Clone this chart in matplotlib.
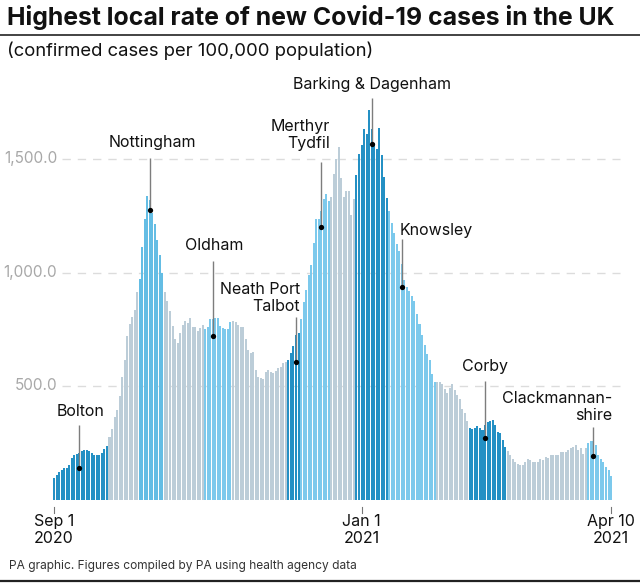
import numpy as np
from matplotlib import pyplot as plt

plt.rcParams['font.family'] = ['Inter', 'DejaVu Sans']

W, H = 640, 586

# daily rate, Sep 1 2020 to Apr 10 2021
rates = [
    94, 109, 120, 131, 137, 139, 153, 184, 195, 200, 207, 213, 217, 220, 213, 204, 198, 197, 198, 204, 222, 236,
    275, 311, 365, 395, 458, 541, 614, 720, 773, 805, 834, 912,
    973, 1113, 1237, 1335, 1318, 1260, 1213, 1145, 1076, 998,
    912, 875, 831, 765, 705, 688, 735, 768, 787, 779, 798, 761, 761, 742, 754, 768, 749,
    761, 793, 796, 800, 800, 764, 754, 751, 751,
    783, 787, 783, 768, 761, 758, 705, 658, 644, 651, 570, 541, 534, 530, 563, 570, 563, 559, 567, 578, 585, 600, 607,
    614, 644, 675, 724, 735,
    793, 871, 925, 991, 1035, 1128, 1235, 1235, 1272, 1323, 1345, 1316,
    1333, 1433, 1499, 1554, 1415, 1333, 1357, 1357, 1253, 1323,
    1430, 1523, 1561, 1630, 1611, 1714, 1630, 1572, 1542, 1638, 1518, 1422, 1326,
    1269, 1220, 1176, 1125, 1096, 1037, 969, 935, 917, 898, 876, 818, 774, 723, 679, 642, 613, 551, 518,
    517, 517, 507, 487, 468, 492, 510, 483, 462, 443, 399, 380, 345,
    316, 311, 316, 322, 316, 307, 330, 341, 345, 351, 326, 297, 292, 263, 231, 213,
    198, 179, 167, 157, 150, 150, 164, 179, 175, 164, 164, 167, 179, 175, 186, 184, 194, 194, 194, 198, 209, 209, 209,
    219, 226, 233, 241, 216, 226, 201, 226,
    248, 256, 256, 238, 198, 179, 167, 145, 128, 103, 98,
]

# how many days in a row each area held the highest rate, and its shade
run_days = [22, 12, 10, 16, 11, 22, 5, 12, 10, 13, 19, 13, 15, 32, 10]
run_shade = ['dark', 'grey', 'mid', 'grey', 'light', 'grey', 'dark', 'light', 'grey',
             'dark', 'light', 'grey', 'dark', 'grey', 'light']
shades = {'dark': '#2490c4', 'mid': '#64bde4', 'light': '#7cc9ec', 'grey': '#bccdd8'}

# place names, the day they point at and the rate there
places = ['Bolton', 'Nottingham', 'Oldham', 'Neath Port\nTalbot', 'Merthyr\nTydfil',
          'Barking & Dagenham', 'Knowsley', 'Corby', 'Clackmannan-\nshire']
place_days = [10, 38, 63, 96, 106, 126, 138, 171, 214]
place_rates = [140, 1277, 722, 604, 1201, 1566, 937, 271, 191]

y_ticks = [500, 1000, 1500]
y_labels = ['500.0', '1,000.0', '1,500.0']
x_ticks = [0, 122, 221]
x_labels = ['Sep 1\n2020', 'Jan 1\n2021', 'Apr 10\n2021']


def fx(x):
    return x / W


def fy(y):
    return 1 - y / H


fig = plt.figure(figsize=(W / 100, H / 100), dpi=100)

# axes box placed so bars land on the same pixels as the reference
ax = fig.add_axes([fx(52.8), fy(499.5), 560 / W, 408.6 / H])
ax.set_xlim(-0.5, 221.7)
ax.set_ylim(0, 1800)
ax.axis('off')

days = np.arange(len(rates))
colors = []
for n, s in zip(run_days, run_shade):
    colors += [shades[s]] * n
ax.bar(days, rates, width=0.8, color=colors, linewidth=0, zorder=2)

for t, lab in zip(y_ticks, y_labels):
    ax.plot([3, 224.5], [t, t], color='#dcdcdc', lw=1, dashes=(6, 5), zorder=1, clip_on=False)
    ax.text(1.2, t, lab, color='#a8a8a8', fontsize=11, ha='right', va='center', clip_on=False)

for t, lab in zip(x_ticks, x_labels):
    ax.plot([t, t], [-33, -59], color='#777777', lw=0.8, clip_on=False)
    ax.text(t, -66, lab, color='#111111', fontsize=11.5, ha='center', va='top', linespacing=1.15, clip_on=False)

stem_tops = [328, 1505, 1052, 806, 1488, 1770, 1146, 524, 319]
text_at = [(81, 412, 'center'), (152, 143, 'center'), (214, 246, 'center'), (300, 298, 'right'),
           (330, 135, 'right'), (372, 85, 'center'), (400, 231, 'left'), (485, 367, 'center'), (612, 407, 'right')]

for name, d, r, top, (tx, ty, ha) in zip(places, place_days, place_rates, stem_tops, text_at):
    ax.plot([d, d], [r, top], color='#7d7d7d', lw=1, zorder=3, solid_capstyle='butt', clip_on=False)
    ax.plot([d], [r], 'o', color='black', ms=3.8, mew=0, zorder=4, clip_on=False)
    fig.text(fx(tx), fy(ty), name, color='#111111', fontsize=11.5, ha=ha, va='center',
             linespacing=1.1, multialignment=ha)

fig.text(fx(7), fy(17), 'Highest local rate of new Covid-19 cases in the UK', fontsize=17.85,
         fontweight='bold', color='#111111', va='center')
fig.add_artist(plt.Line2D([0, 1], [fy(35), fy(35)], color='#222222', lw=1.2))
fig.text(fx(7), fy(51), '(confirmed cases per 100,000 population)', fontsize=13.3, color='#111111', va='center')
fig.text(fx(9), fy(566), 'PA graphic. Figures compiled by PA using health agency data', fontsize=8.6,
         color='#333333', va='center')
fig.add_artist(plt.Line2D([0, 1], [fy(580.5), fy(580.5)], color='#222222', lw=1.6))

plt.savefig('out.png', dpi=100)
